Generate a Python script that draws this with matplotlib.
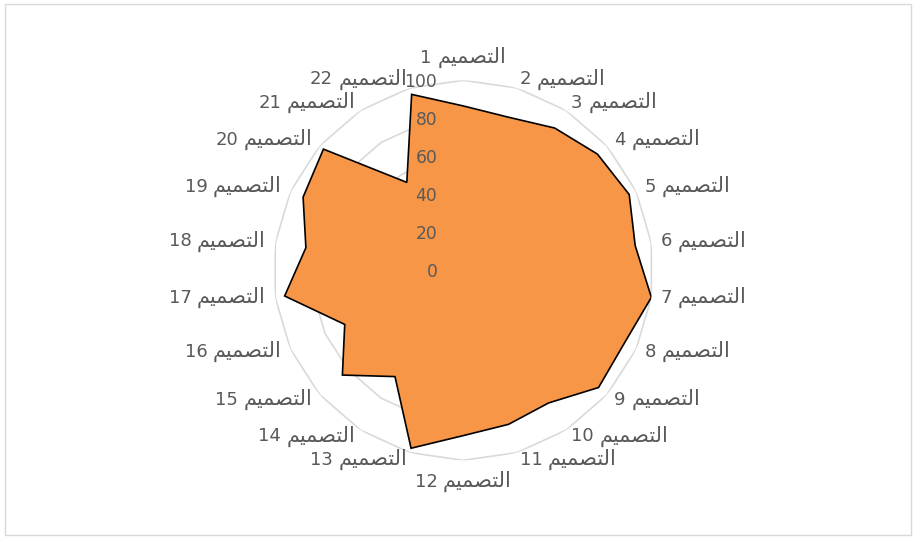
import numpy as np
import matplotlib
matplotlib.use("Agg")
import matplotlib.pyplot as plt
from matplotlib.patches import Rectangle
from matplotlib.offsetbox import TextArea, HPacker, AnnotationBbox

plt.rcParams["font.family"] = ["DejaVu Sans"]

# ---- data -------------------------------------------------------------
category_word = "التصميم"
design_numbers = list(range(1, 23))
scores = [86.5, 84, 89, 93.4, 96, 91.4, 100, 93, 94.2, 83, 84.5,
          87, 97.6, 66.5, 84.2, 68.6, 95, 83.7, 92.7, 97.4, 55, 96.5]
radial_ticks = [0, 20, 40, 60, 80, 100]

# ---- minimal Arabic shaping (presentation forms, visual order) --------
FORMS = {  # isolated, final, initial, medial
    "ا": ("\uFE8D", "\uFE8E", None, None),
    "ل": ("\uFEDD", "\uFEDE", "\uFEDF", "\uFEE0"),
    "ت": ("\uFE95", "\uFE96", "\uFE97", "\uFE98"),
    "ص": ("\uFEB9", "\uFEBA", "\uFEBB", "\uFEBC"),
    "م": ("\uFEE1", "\uFEE2", "\uFEE3", "\uFEE4"),
    "ي": ("\uFEF1", "\uFEF2", "\uFEF3", "\uFEF4"),
}
NON_LEFT_JOINING = {"ا"}


def shape_rtl(word):
    glyphs = []
    n = len(word)
    for i, ch in enumerate(word):
        joins_prev = i > 0 and word[i - 1] not in NON_LEFT_JOINING
        joins_next = i < n - 1 and ch not in NON_LEFT_JOINING
        iso, fin, ini, med = FORMS[ch]
        if joins_prev and joins_next:
            g = med
        elif joins_prev:
            g = fin
        elif joins_next:
            g = ini
        else:
            g = iso
        glyphs.append(g)
    return "".join(reversed(glyphs))


shaped_word = shape_rtl(category_word)

# ---- figure -----------------------------------------------------------
W, H = 916, 539
fig = plt.figure(figsize=(W / 100, H / 100), dpi=100)
fig.patch.set_facecolor("white")

cx, cy, R = 463.3, 270.3, 190.0
ax = fig.add_axes([(cx - R) / W, (H - cy - R) / H, 2 * R / W, 2 * R / H],
                  projection="polar")
ax.set_theta_offset(np.pi / 2)
ax.set_theta_direction(-1)
ax.set_ylim(0, 100)
ax.set_xticks([])
ax.set_yticks([])
ax.grid(False)
ax.spines["polar"].set_visible(False)
ax.set_facecolor("none")

n = len(scores)
theta = np.linspace(0, 2 * np.pi, n, endpoint=False)
theta_closed = np.append(theta, theta[0])

# polygon gridlines
for lvl in radial_ticks[1:]:
    ax.plot(theta_closed, [lvl] * (n + 1), color="#D9D9D9", lw=1.2,
            zorder=1, solid_joinstyle="miter")

# data polygon
ax.fill(theta_closed, scores + scores[:1], facecolor="#F79646",
        edgecolor="black", lw=1.2, zorder=2, joinstyle="miter")

# radial axis labels
for v in radial_ticks:
    ax.annotate(str(v), xy=(0, v), xytext=(-26, -1.5),
                textcoords="offset pixels", ha="right", va="center",
                fontsize=12.3, color="#595959", zorder=5)

# category labels: number followed (visually) by the Arabic word
label_color = "#595959"
for th, num in zip(theta, design_numbers):
    s, c = np.sin(th), np.cos(th)
    if abs(s) < 0.05:
        bx, dx, dy = 0.5, 0.0, (22.0 if c > 0 else -22.0)
    else:
        bx = 0.0 if s > 0 else 1.0
        dx, dy = 9.5 * s, 8.3 * c
    parts = HPacker(
        children=[
            TextArea(str(num), textprops=dict(fontsize=13, color=label_color)),
            TextArea(shaped_word, textprops=dict(fontsize=15, color=label_color)),
        ],
        sep=4, pad=0, align="baseline")
    ab = AnnotationBbox(parts, (th, 100), xybox=(dx, dy),
                        xycoords="data", boxcoords="offset pixels",
                        box_alignment=(bx, 0.45), frameon=False,
                        pad=0, annotation_clip=False, zorder=5)
    ax.add_artist(ab)

# chart border
fig.patches.append(Rectangle((5 / W, 4 / H), (911 - 5) / W, (535 - 3.5) / H,
                             transform=fig.transFigure, fill=False,
                             edgecolor="#D9D9D9", lw=1.0))

fig.savefig("out.png", dpi=100)
